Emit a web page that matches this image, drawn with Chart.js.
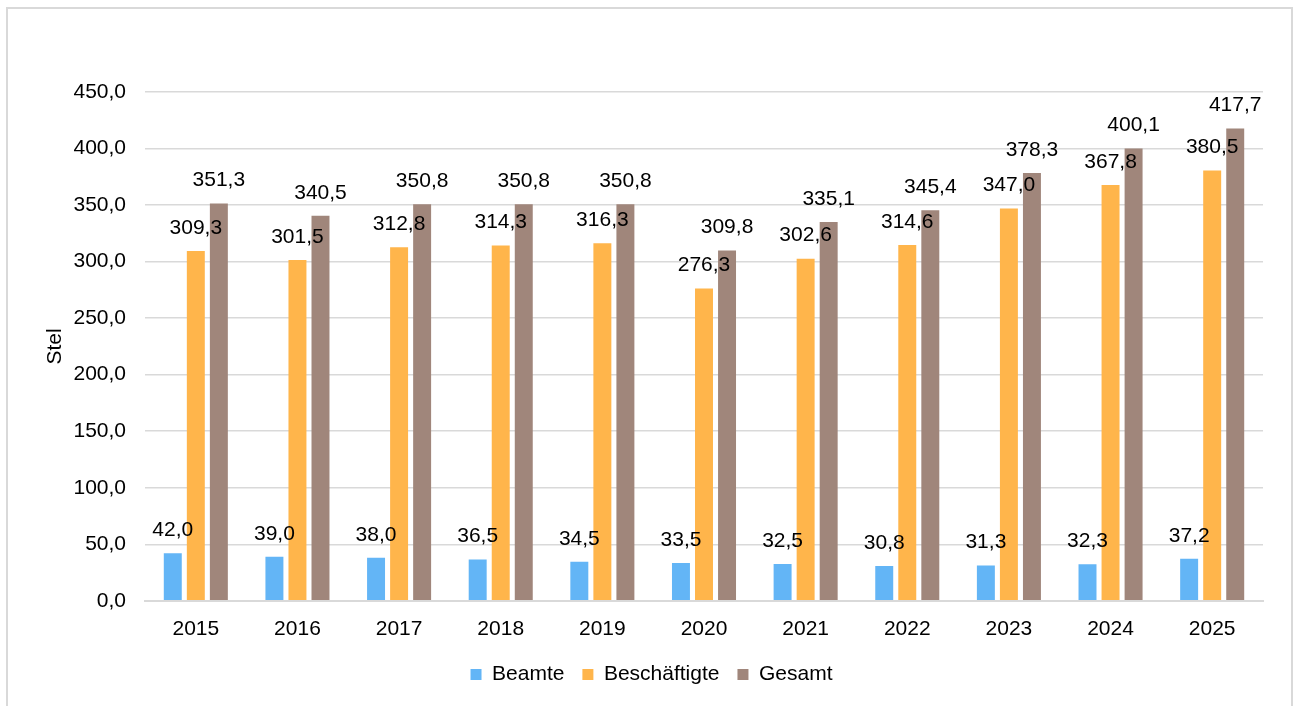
<!DOCTYPE html>
<html>
<head>
<meta charset="utf-8">
<script src="https://cdn.jsdelivr.net/npm/chart.js@4"></script>
<style>
    body { margin: 0; background: #fff; }
    #frame {
        position: absolute; left: 6px; top: 7px;
        width: 1283px; height: 720px;
        border: 2px solid #d9d9d9;
    }
    #wrap { position: absolute; left: 0; top: 0; width: 1296px; height: 706px; }
</style>
</head>
<body>
<div id="frame"></div>
<div id="wrap"><canvas id="stellen"></canvas></div>
<script>
const years = ['2015', '2016', '2017', '2018', '2019', '2020', '2021', '2022', '2023', '2024', '2025'];
const beamte = [42.0, 39.0, 38.0, 36.5, 34.5, 33.5, 32.5, 30.8, 31.3, 32.3, 37.2];
const beschaeftigte = [309.3, 301.5, 312.8, 314.3, 316.3, 276.3, 302.6, 314.6, 347.0, 367.8, 380.5];
const gesamt = [351.3, 340.5, 350.8, 350.8, 350.8, 309.8, 335.1, 345.4, 378.3, 400.1, 417.7];

const fontFamily = '"Liberation Sans", Arial, sans-serif';

// Zahlen im deutschen Format (Komma)
function fmt(v) {
    return v.toFixed(1).replace('.', ',');
}

// Datenbeschriftungen über den Balken
const valueLabels = {
    id: 'valueLabels',
    afterDatasetsDraw(chart) {
        const ctx = chart.ctx;
        ctx.save();
        ctx.font = '21px ' + fontFamily;
        ctx.fillStyle = '#000';
        ctx.textAlign = 'center';
        ctx.textBaseline = 'middle';
        chart.data.datasets.forEach((ds, i) => {
            chart.getDatasetMeta(i).data.forEach((bar, j) => {
                ctx.fillText(fmt(ds.data[j]), bar.x, bar.y - 23);
            });
        });
        ctx.restore();
    }
};

new Chart(document.querySelector('#stellen'), {
    type: 'bar',
    data: {
        labels: years,
        datasets: [
            { label: 'Beamte', data: beamte, backgroundColor: '#63b5f6' },
            { label: 'Beschäftigte', data: beschaeftigte, backgroundColor: '#ffb54b' },
            { label: 'Gesamt', data: gesamt, backgroundColor: '#a0867b' }
        ]
    },
    options: {
        responsive: true,
        maintainAspectRatio: false,
        animation: false,
        datasets: {
            bar: {
                barPercentage: 0.78,
                categoryPercentage: 0.68
            }
        },
        layout: {
            padding: { left: 40, right: 33, top: 92, bottom: 11 }
        },
        scales: {
            x: {
                afterFit(scale) { scale.height -= 4; },
                grid: { display: false },
                border: { color: '#d9d9d9', width: 2 },
                ticks: {
                    color: '#000',
                    font: { family: fontFamily, size: 21 },
                    padding: 8,
                    maxRotation: 0
                }
            },
            y: {
                min: 0,
                max: 450,
                afterFit(scale) { scale.width = 105; },
                grid: { color: '#d9d9d9', lineWidth: 1.5, drawTicks: false },
                border: { display: false },
                ticks: {
                    stepSize: 50,
                    color: '#000',
                    padding: 19,
                    font: { family: fontFamily, size: 21 },
                    callback: v => fmt(v)
                },
                title: {
                    display: true,
                    text: 'Stel',
                    color: '#000',
                    padding: { top: 3, bottom: 0 },
                    font: { family: fontFamily, size: 21 }
                }
            }
        },
        plugins: {
            legend: {
                position: 'bottom',
                labels: {
                    color: '#000',
                    boxWidth: 11,
                    boxHeight: 11,
                    padding: 18,
                    font: { family: fontFamily, size: 21 }
                }
            },
            tooltip: { enabled: false }
        }
    },
    plugins: [valueLabels]
});
</script>
</body>
</html>
